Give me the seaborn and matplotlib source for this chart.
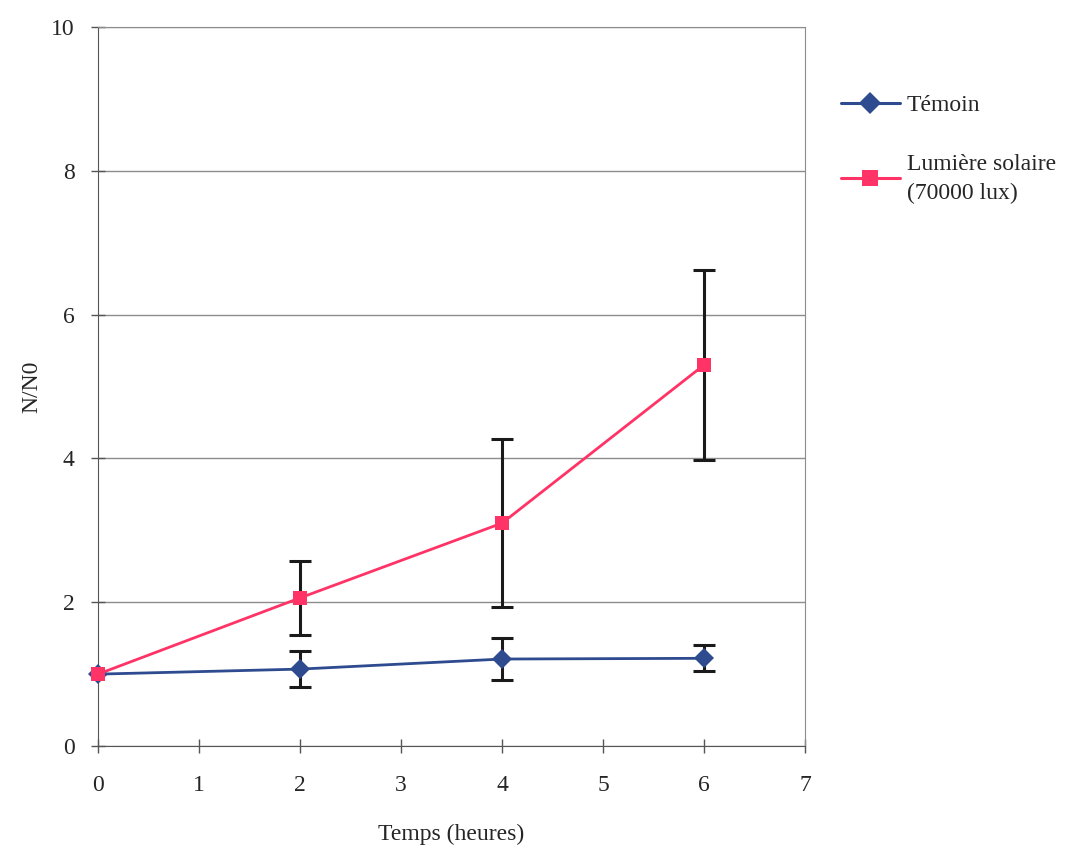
"""
N/N0 over time: control vs. sunlight exposure.
"""

import matplotlib
matplotlib.use('Agg')
import matplotlib.pyplot as plt
import seaborn as sns
import pandas as pd
from matplotlib.lines import Line2D

# Data
temps = [0, 2, 4, 6]
temoin = [1.0, 1.07, 1.21, 1.22]
temoin_err = [0.0, 0.25, 0.29, 0.18]
solaire = [1.0, 2.06, 3.10, 5.30]
solaire_err = [0.0, 0.52, 1.17, 1.32]

x_ticks = [0, 1, 2, 3, 4, 5, 6, 7]
y_ticks = [0, 2, 4, 6, 8, 10]

label_temoin = 'Témoin'
label_solaire = 'Lumière solaire\n(70000 lux)'

sns.set_style("white")
plt.rcParams['font.family'] = ['Liberation Serif', 'DejaVu Serif']
plt.rcParams['font.size'] = 17

df = pd.DataFrame({
    'temps': temps * 2,
    'ratio': temoin + solaire,
    'serie': [label_temoin] * len(temps) + [label_solaire] * len(temps),
})

fig = plt.figure(figsize=(10.78, 8.59), dpi=100)
ax = fig.add_axes([0.0909, 0.1315, 0.6559, 0.8371])

colors = {label_temoin: '#2D4B8E', label_solaire: '#FF3366'}
markers = {label_temoin: 'D', label_solaire: 's'}


def draw_errorbars(xs, ys, errs):
    # skip points without spread (no caps at t=0)
    pts = [(x, y, e) for x, y, e in zip(xs, ys, errs) if e > 0]
    ax.errorbar([p[0] for p in pts], [p[1] for p in pts],
                yerr=[p[2] for p in pts], fmt='none', ecolor='#1a1a1a',
                elinewidth=2.2, capsize=8, capthick=2.2, zorder=2)


draw_errorbars(temps, temoin, temoin_err)
draw_errorbars(temps, solaire, solaire_err)

sns.lineplot(data=df, x='temps', y='ratio', hue='serie', style='serie',
             palette=colors, markers=markers, dashes=False, linewidth=2,
             markersize=10, markeredgewidth=0, ax=ax, zorder=3, legend=False)
for line in ax.lines:
    line.set_clip_on(False)

ax.set_xlim(0, 7)
ax.set_ylim(0, 10)
ax.set_xticks(x_ticks)
ax.set_yticks(y_ticks)
ax.yaxis.grid(True, color='#8c8c8c', linewidth=1)
ax.set_axisbelow(True)

for side in ['top', 'right']:
    ax.spines[side].set_color('#8c8c8c')
for side in ['left', 'bottom']:
    ax.spines[side].set_color('#555555')
ax.tick_params(axis='both', direction='inout', length=10, width=1,
               color='#555555', labelsize=17, bottom=True, left=True)
ax.tick_params(axis='x', pad=16)
ax.tick_params(axis='y', pad=12)

ax.set_xlabel('Temps (heures)', fontsize=17, labelpad=20)
ax.set_ylabel('N/N0', fontsize=17, labelpad=6)

# Legend outside on the right
handles = [
    Line2D([0], [0], color=colors[label_temoin], marker='D', markersize=11,
           linewidth=2.2, markeredgewidth=0),
    Line2D([0], [0], color=colors[label_solaire], marker='s', markersize=11,
           linewidth=2.2, markeredgewidth=0),
]
leg = fig.legend(handles, [label_temoin, label_solaire], loc='upper left',
                 bbox_to_anchor=(0.76, 0.915), frameon=False, fontsize=17,
                 handlelength=2.5, handletextpad=0.3, labelspacing=1.6)
for t in leg.get_texts():
    t.set_linespacing(1.5)

plt.savefig('out.png', dpi=100)
plt.close()
